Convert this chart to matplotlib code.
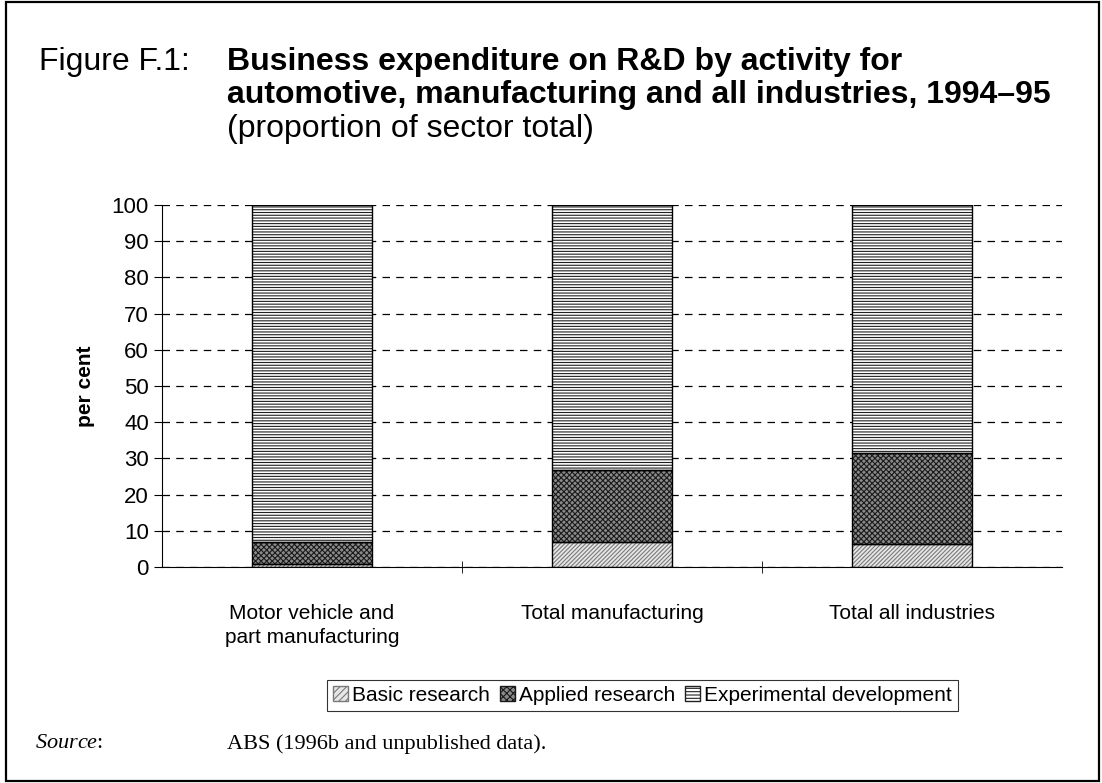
import matplotlib
matplotlib.use("Agg")
import matplotlib.pyplot as plt
import matplotlib.patches as mpatches
import numpy as np

plt.rcParams['font.family'] = ['Liberation Sans', 'DejaVu Sans']
plt.rcParams['hatch.linewidth'] = 0.8
plt.rcParams['mathtext.fontset'] = 'custom'
plt.rcParams['mathtext.it'] = 'Liberation Serif:italic'
plt.rcParams['mathtext.rm'] = 'Liberation Serif'

categories = ['Motor vehicle and\npart manufacturing', 'Total manufacturing', 'Total all industries']
basic = [0.8, 6.8, 6.4]
applied = [6.2, 20.0, 25.1]
experimental = [93.0, 73.2, 68.5]
series_names = ['Basic research', 'Applied research', 'Experimental development']

# style per series: face, hatch, hatch colour
styles = [
    ('#e6e6e6', '////////', '#7a7a7a'),
    ('#8a8a8a', 'xxxxxx', '#1a1a1a'),
    ('white', '------', '#202020'),
]

fig = plt.figure(figsize=(11.02, 7.83), dpi=100)
# outer frame
fig.patches.append(mpatches.Rectangle((0.005, 0.003), 0.992, 0.994, transform=fig.transFigure,
                                      fill=False, edgecolor='black', linewidth=1.6))

fig.text(0.035, 0.911, 'Figure F.1:', fontsize=23, va='baseline')
fig.text(0.206, 0.911, 'Business expenditure on R&D by activity for', fontsize=23,
         fontweight='bold', va='baseline')
fig.text(0.206, 0.868, 'automotive, manufacturing and all industries, 1994–95', fontsize=23,
         fontweight='bold', va='baseline')
fig.text(0.206, 0.825, '(proportion of sector total)', fontsize=23, va='baseline')

ax = fig.add_axes([0.147, 0.276, 0.817, 0.462])
x = np.arange(len(categories))
bottom = np.zeros(len(categories))
handles = []
for vals, name, (fc, hatch, hc) in zip([basic, applied, experimental], series_names, styles):
    ax.bar(x, vals, 0.4, bottom=bottom, color=fc, hatch=hatch, edgecolor=hc, linewidth=0, zorder=2)
    ax.bar(x, vals, 0.4, bottom=bottom, fill=False, edgecolor='black', linewidth=1.0, zorder=3)
    bottom += np.array(vals)
    handles.append(mpatches.Patch(facecolor=fc, hatch=hatch[:5], edgecolor=hc, label=name))

ax.set_xlim(-0.5, 2.5)
ax.set_ylim(0, 100)
ax.set_yticks(range(0, 101, 10))
ax.yaxis.grid(True, linestyle=(0, (6, 5)), color='black', linewidth=0.9, zorder=0)
ax.set_axisbelow(True)
ax.spines['top'].set_visible(False)
ax.spines['right'].set_visible(False)
ax.set_xticks(x)
ax.set_xticklabels(categories, fontsize=15, linespacing=1.3)
ax.tick_params(axis='x', length=0, pad=27)
ax.set_xticks([0.5, 1.5], minor=True)
ax.tick_params(axis='x', which='minor', length=8, direction='inout')
ax.tick_params(axis='y', labelsize=16, length=6, direction='out')
ax.set_ylabel('per cent', fontsize=15, fontweight='bold', labelpad=12)

leg = fig.legend(handles=handles, loc='center', fontsize=15,
                 ncol=3, frameon=True, fancybox=False, edgecolor='black',
                 handlelength=0.7, handleheight=0.7, handletextpad=0.2, columnspacing=0.5,
                 borderpad=0.3)
leg.set_bbox_to_anchor((0.583, 0.112), transform=fig.transFigure)
leg.get_frame().set_linewidth(0.8)

fig.text(0.032, 0.05, r'$\mathit{Source}$:', fontsize=16, family='Liberation Serif', va='center')
fig.text(0.206, 0.05, 'ABS (1996b and unpublished data).', fontsize=16,
         family='Liberation Serif', va='center')

fig.savefig('out.png', dpi=100)
